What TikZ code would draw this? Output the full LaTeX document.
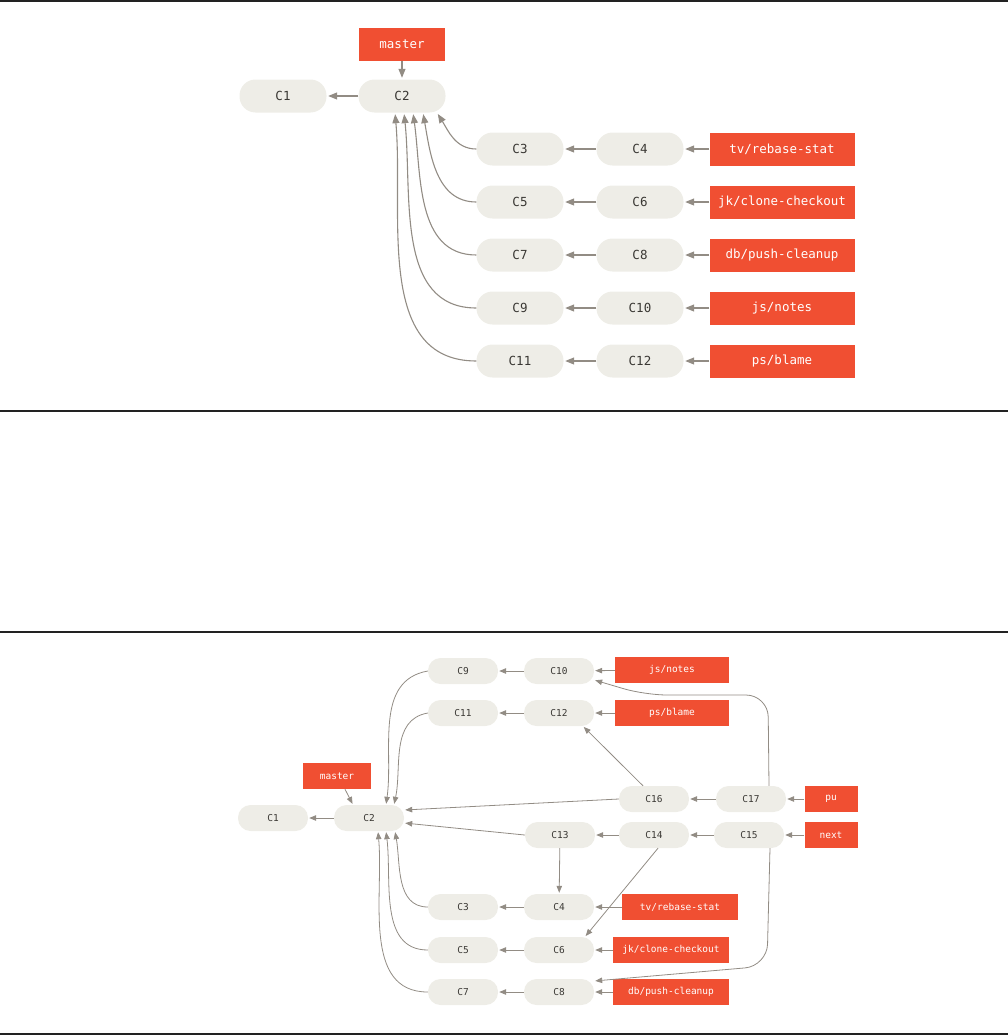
\documentclass[tikz,border=0pt]{standalone}
\usepackage{fontspec}
\setmonofont{DejaVu Sans Mono}
\usepackage{xcolor}
\usetikzlibrary{arrows.meta}
\definecolor{commitbg}{RGB}{238,237,231}
\definecolor{committext}{RGB}{58,56,52}
\definecolor{refred}{RGB}{240,79,50}
\definecolor{edgegray}{RGB}{146,140,132}
\definecolor{rulegray}{RGB}{34,34,34}

\begin{document}
\begin{tikzpicture}[
    x=1pt, y=1pt,
    commit/.style={
      rectangle,
      rounded corners=16pt,
      minimum width=87pt,
      minimum height=33pt,
      inner sep=0pt,
      fill=commitbg,
      text=committext,
      font=\ttfamily\fontsize{12.5}{12.5}\selectfont
    },
    smallcommit/.style={
      commit,
      rounded corners=12.5pt,
      minimum width=70pt,
      minimum height=26pt,
      font=\ttfamily\fontsize{9.5}{9.5}\selectfont
    },
    branch/.style={
      rectangle,
      minimum width=145pt,
      minimum height=33pt,
      inner sep=0pt,
      fill=refred,
      text=white,
      font=\ttfamily\fontsize{12.5}{12.5}\selectfont
    },
    smallbranch/.style={
      branch,
      minimum width=116pt,
      minimum height=26pt,
      font=\ttfamily\fontsize{9.5}{9.5}\selectfont
    },
    parent/.style={-{Triangle[length=9pt,width=7pt]}, line width=1.1pt, color=edgegray, shorten >=1.5pt},
    smallparent/.style={-{Triangle[length=7pt,width=5.5pt]}, line width=0.8pt, color=edgegray, shorten >=1pt},
    separator/.style={line width=2pt, color=rulegray}
  ]
    \useasboundingbox (0,0) rectangle (1008,-1036);

    % separators
    \draw[separator] (0,-1) -- (1008,-1);
    \draw[separator] (0,-411) -- (1008,-411);
    \draw[separator] (0,-632) -- (1008,-632);
    \draw[separator] (0,-1034) -- (1008,-1034);

    % ---- before: one topic branch per row ----
    \node[branch, minimum width=86pt] (master) at (402,-44) {master};
    \node[commit] (c1) at (283,-96) {C1};
    \node[commit] (c2) at (402,-96) {C2};

    \node[commit] (c3) at (520,-149) {C3};
    \node[commit] (c4) at (640,-149) {C4};
    \node[branch] (tvrebase) at (782,-149) {tv/rebase-stat};
    \node[commit] (c5) at (520,-202) {C5};
    \node[commit] (c6) at (640,-202) {C6};
    \node[branch] (jkclone) at (782,-202) {jk/clone-checkout};
    \node[commit] (c7) at (520,-255) {C7};
    \node[commit] (c8) at (640,-255) {C8};
    \node[branch] (dbpush) at (782,-255) {db/push-cleanup};
    \node[commit] (c9) at (520,-308) {C9};
    \node[commit] (c10) at (640,-308) {C10};
    \node[branch] (jsnotes) at (782,-308) {js/notes};
    \node[commit] (c11) at (520,-361) {C11};
    \node[commit] (c12) at (640,-361) {C12};
    \node[branch] (psblame) at (782,-361) {ps/blame};

    \draw[parent] (master) -- (c2);
    \draw[parent] (c2) -- (c1);
    \draw[parent] (tvrebase) -- (c4);
    \draw[parent] (c4) -- (c3);
    \draw[parent] (jkclone) -- (c6);
    \draw[parent] (c6) -- (c5);
    \draw[parent] (dbpush) -- (c8);
    \draw[parent] (c8) -- (c7);
    \draw[parent] (jsnotes) -- (c10);
    \draw[parent] (c10) -- (c9);
    \draw[parent] (psblame) -- (c12);
    \draw[parent] (c12) -- (c11);
    \draw[parent] (c3.west) to[out=180,in=-58] ([xshift=35pt]c2.south);
    \draw[parent] (c5.west) to[out=180,in=-80] ([xshift=21pt]c2.south);
    \draw[parent] (c7.west) to[out=180,in=-82] ([xshift=11pt]c2.south);
    \draw[parent] (c9.west) to[out=180,in=-84] ([xshift=2pt]c2.south);
    \draw[parent] (c11.west) to[out=180,in=-85] ([xshift=-7pt]c2.south);

    % ---- after: integration branches ----
    \node[smallbranch, minimum width=68pt] (bmaster) at (337,-776) {master};
    \node[smallcommit] (d1) at (273,-818) {C1};
    \node[smallcommit] (d2) at (369,-818) {C2};

    \node[smallcommit] (d9) at (463,-671) {C9};
    \node[smallcommit] (d10) at (559,-671) {C10};
    \node[smallbranch, minimum width=114pt] (bjsnotes) at (672,-670) {js/notes};
    \node[smallcommit] (d11) at (463,-713) {C11};
    \node[smallcommit] (d12) at (559,-713) {C12};
    \node[smallbranch, minimum width=114pt] (bpsblame) at (672,-713) {ps/blame};

    \node[smallcommit] (d16) at (654,-799) {C16};
    \node[smallcommit] (d17) at (751,-799) {C17};
    \node[smallbranch, minimum width=53pt] (bpu) at (831,-799) {pu};
    \node[smallcommit] (d13) at (560,-835) {C13};
    \node[smallcommit] (d14) at (654,-835) {C14};
    \node[smallcommit] (d15) at (749,-835) {C15};
    \node[smallbranch, minimum width=53pt] (bnext) at (831,-835) {next};

    \node[smallcommit] (d3) at (463,-907) {C3};
    \node[smallcommit] (d4) at (559,-907) {C4};
    \node[smallbranch] (btvrebase) at (680,-907) {tv/rebase-stat};
    \node[smallcommit] (d5) at (463,-950) {C5};
    \node[smallcommit] (d6) at (559,-950) {C6};
    \node[smallbranch] (bjkclone) at (671,-950) {jk/clone-checkout};
    \node[smallcommit] (d7) at (463,-992) {C7};
    \node[smallcommit] (d8) at (559,-992) {C8};
    \node[smallbranch] (bdbpush) at (671,-992) {db/push-cleanup};

    \coordinate (puknee) at (768,-695);
    \coordinate (puflat) at (645,-695);
    \coordinate (nextknee) at (767,-966);

    \draw[smallparent] ([xshift=8pt]bmaster.south) -- ([xshift=-16pt]d2.north);
    \draw[smallparent] (d2) -- (d1);
    \draw[smallparent] (bjsnotes) -- (d10);
    \draw[smallparent] (d10) -- (d9);
    \draw[smallparent] (bpsblame) -- (d12);
    \draw[smallparent] (d12) -- (d11);
    \draw[smallparent] (bpu) -- (d17);
    \draw[smallparent] (d17) -- (d16);
    \draw[smallparent] (bnext) -- (d15);
    \draw[smallparent] (d15) -- (d14);
    \draw[smallparent] (d14) -- (d13);
    \draw[smallparent] (btvrebase) -- (d4);
    \draw[smallparent] (d4) -- (d3);
    \draw[smallparent] (bjkclone) -- (d6);
    \draw[smallparent] (d6) -- (d5);
    \draw[smallparent] (bdbpush) -- (d8);
    \draw[smallparent] (d8) -- (d7);

    \draw[smallparent] (d9.west) to[out=190,in=82] ([xshift=17pt]d2.north);
    \draw[smallparent] (d11.west) to[out=190,in=78] ([xshift=25pt]d2.north);
    \draw[smallparent] (d16.west) -- ([yshift=8pt]d2.east);
    \draw[smallparent] (d13.west) -- ([yshift=-5pt]d2.east);
    \draw[smallparent] (d3.west) to[out=180,in=-80] ([xshift=26pt]d2.south);
    \draw[smallparent] (d5.west) to[out=180,in=-83] ([xshift=17pt]d2.south);
    \draw[smallparent] (d7.west) to[out=180,in=-85] ([xshift=9pt]d2.south);

    \draw[smallparent] ([xshift=-11pt]d16.north) -- ([xshift=24pt]d12.south);
    \draw[smallparent] (d13) -- (d4);
    \draw[smallparent] ([xshift=4pt]d14.south) -- ([xshift=26pt]d6.north);
    \draw[smallparent, rounded corners=22pt] ([xshift=18pt]d17.north) -- (puknee) -- (puflat) -- ([yshift=-9pt]d10.east);
    \draw[smallparent, rounded corners=22pt] ([xshift=21pt]d15.south) -- (nextknee) -- ([yshift=11pt]d8.east);
  \end{tikzpicture}
\end{document}
